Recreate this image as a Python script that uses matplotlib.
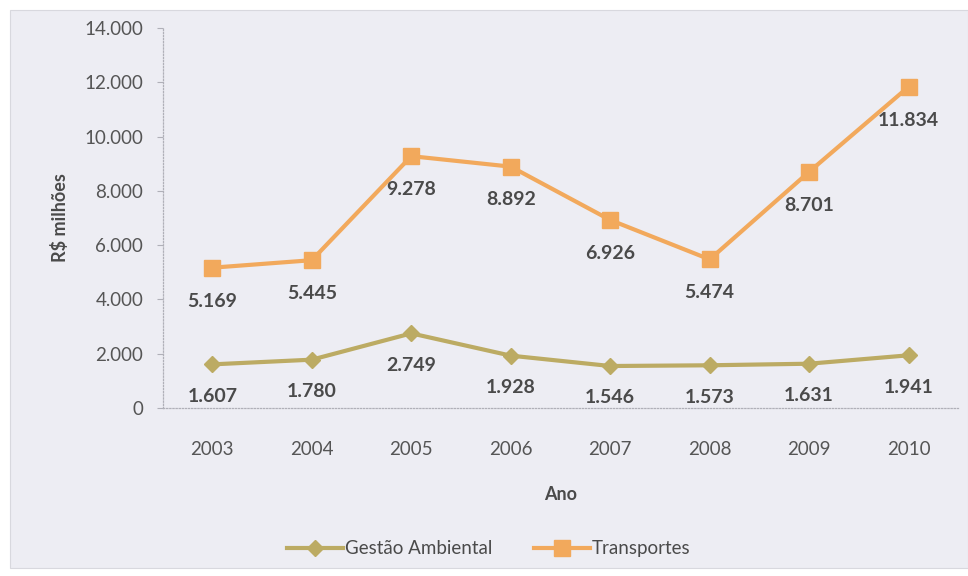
import matplotlib.pyplot as plt
from matplotlib.patches import Rectangle
from matplotlib.ticker import FuncFormatter

# Gasto federal por função (R$ milhões)
anos = ['2003', '2004', '2005', '2006', '2007', '2008', '2009', '2010']
gestao_ambiental = [1607, 1780, 2749, 1928, 1546, 1573, 1631, 1941]
transportes = [5169, 5445, 9278, 8892, 6926, 5474, 8701, 11834]

COR_GESTAO = '#bcab63'
COR_TRANSP = '#f2a95c'
FUNDO = '#ededf3'
TEXTO = '#4a4a4a'

plt.rcParams['font.family'] = ['Lato', 'DejaVu Sans']

fig = plt.figure(figsize=(9.68, 5.76), dpi=100, facecolor='white')
# fundo da folha digitalizada
fundo = Rectangle((10 / 968, 8 / 576), 958 / 968, 558 / 576,
                  transform=fig.transFigure, facecolor=FUNDO,
                  edgecolor='#d8d8de', linewidth=0.8, zorder=-10)
fig.add_artist(fundo)

ax = fig.add_axes([0.168, 0.2917, 0.822, 0.6597])
ax.set_zorder(5)
ax.set_facecolor(FUNDO)

x = list(range(len(anos)))
ax.plot(x, gestao_ambiental, color=COR_GESTAO, linewidth=3, marker='D',
        markersize=8.5, label='Gestão Ambiental', zorder=3)
ax.plot(x, transportes, color=COR_TRANSP, linewidth=3, marker='s',
        markersize=12, label='Transportes', zorder=3)

def fmt_milhar(v):
    return f'{v:,.0f}'.replace(',', '.')

for xi, v in zip(x, transportes):
    ax.annotate(fmt_milhar(v), (xi, v), xytext=(0, -24), textcoords='offset points',
                ha='center', va='center', fontsize=14, fontweight='bold', color=TEXTO)
for xi, v in zip(x, gestao_ambiental):
    ax.annotate(fmt_milhar(v), (xi, v), xytext=(0, -23), textcoords='offset points',
                ha='center', va='center', fontsize=14, fontweight='bold', color=TEXTO)

ax.set_xlim(-0.5, len(anos) - 0.5)
ax.set_ylim(0, 14000)
ax.set_yticks(range(0, 14001, 2000))
ax.yaxis.set_major_formatter(FuncFormatter(lambda v, p: fmt_milhar(v)))
ax.set_xticks(x)
ax.set_xticklabels(anos)

for s in ['top', 'right']:
    ax.spines[s].set_visible(False)
for s in ['left', 'bottom']:
    ax.spines[s].set_color('#b0b0b8')
    ax.spines[s].set_linestyle((0, (1, 1.5)))
    ax.spines[s].set_linewidth(0.9)

ax.tick_params(axis='y', length=4, color='#b0b0b8', labelsize=13.5,
               labelcolor='#555555', pad=10)
ax.tick_params(axis='x', length=0, labelsize=13.5, labelcolor='#555555', pad=24)

ax.set_ylabel('R$ milhões', fontsize=13, fontweight='bold', color=TEXTO, labelpad=11)
ax.set_xlabel('Ano', fontsize=13, fontweight='bold', color=TEXTO, labelpad=20)

fig.legend(loc='center', bbox_to_anchor=(0.505, 0.047), ncol=2, frameon=False,
           fontsize=13.5, labelcolor=TEXTO, handlelength=3, columnspacing=2.2,
           handletextpad=0.1)

fig.savefig('out.png', dpi=100, facecolor=fig.get_facecolor())
